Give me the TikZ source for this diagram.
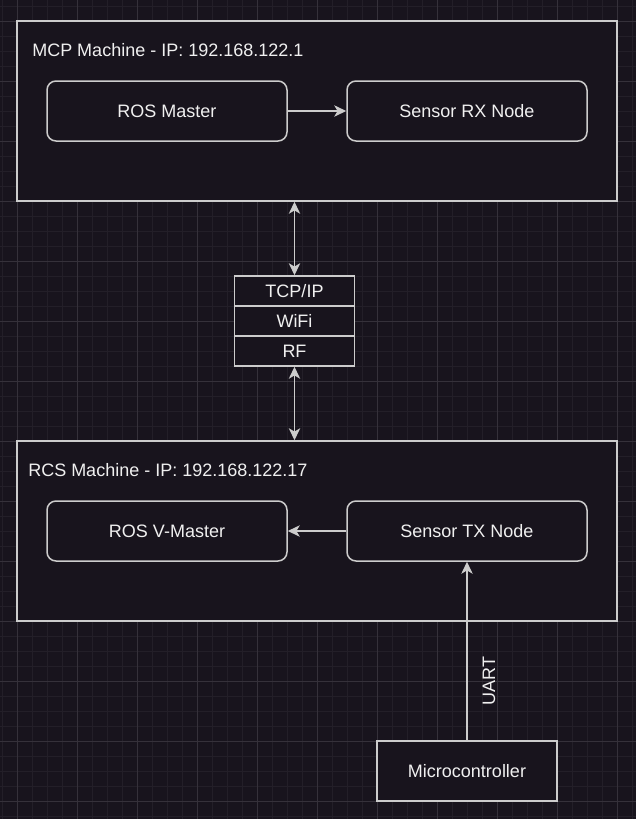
\documentclass[tikz,border=0pt]{standalone}
\usepackage{fontspec}
\setmainfont{Liberation Sans}
\usetikzlibrary{arrows.meta}
\definecolor{bg}{HTML}{18141D}
\definecolor{gridminor}{HTML}{231F28}
\definecolor{gridmajor}{HTML}{35313A}
\definecolor{strokec}{HTML}{CCCCCC}
\definecolor{textc}{HTML}{F0F0F0}
\begin{document}
\begin{tikzpicture}[x=0.75pt,y=-0.75pt,
  lbl/.style={text=textc, font=\fontsize{13.5}{16}\selectfont, inner sep=0pt},
  plainbox/.style={draw=strokec, fill=bg, line width=1.125pt, lbl},
  bigbox/.style={plainbox, minimum width=450pt, minimum height=135pt},
  rbox/.style={plainbox, rounded corners=6.75pt, minimum width=180pt, minimum height=45pt},
  mcbox/.style={plainbox, minimum width=135pt, minimum height=45pt},
  layer/.style={plainbox, minimum width=90pt, minimum height=22.5pt},
  conn/.style={draw=strokec, line width=1.125pt},
  arr/.style={conn, -{Stealth[length=9pt,width=8.5pt,inset=2.5pt]}},
  darr/.style={conn, {Stealth[length=9pt,width=8.5pt,inset=2.5pt]}-{Stealth[length=9pt,width=8.5pt,inset=2.5pt]}}
]
\useasboundingbox (0,0) rectangle (636,819);
\fill[bg] (0,0) rectangle (636,819);
% grid
\foreach \i in {2,17,...,632} \draw[gridminor, line width=0.75pt] (\i,0) -- (\i,819);
\foreach \j in {6,21,...,816} \draw[gridminor, line width=0.75pt] (0,\j) -- (636,\j);
\foreach \i in {17,77,...,617} \draw[gridmajor, line width=0.75pt] (\i,0) -- (\i,819);
\foreach \j in {21,81,...,801} \draw[gridmajor, line width=0.75pt] (0,\j) -- (636,\j);

% MCP machine
\node[bigbox] (mcp) at (317,111) {};
\node[lbl, anchor=west] (mcpt) at (32,50) {MCP Machine - IP: 192.168.122.1};
\node[rbox] (rosm) at (167,111) {ROS Master};
\node[rbox] (srx) at (467,111) {Sensor RX Node};
\draw[arr] (rosm) -- (srx);

% stack
\node[layer] (tcp) at (294.5,291) {TCP/IP};
\node[layer] (wifi) at (294.5,321) {WiFi};
\node[layer] (rf) at (294.5,351) {RF};

% RCS machine
\node[bigbox] (rcs) at (317,531) {};
\node[lbl, anchor=west] (rcst) at (28,470) {RCS Machine - IP: 192.168.122.17};
\node[rbox] (rosv) at (167,531) {ROS V-Master};
\node[rbox] (stx) at (467,531) {Sensor TX Node};
\draw[arr] (stx) -- (rosv);

\draw[darr] (tcp.north |- mcp.south) -- (tcp.north);
\draw[darr] (rf.south) -- (rf.south |- rcs.north);

% microcontroller
\node[mcbox] (mc) at (467,771) {Microcontroller};
\draw[arr] (mc.north) -- (stx.south);
\node[lbl, rotate=90] (uart) at (489,681) {UART};
\end{tikzpicture}
\end{document}
